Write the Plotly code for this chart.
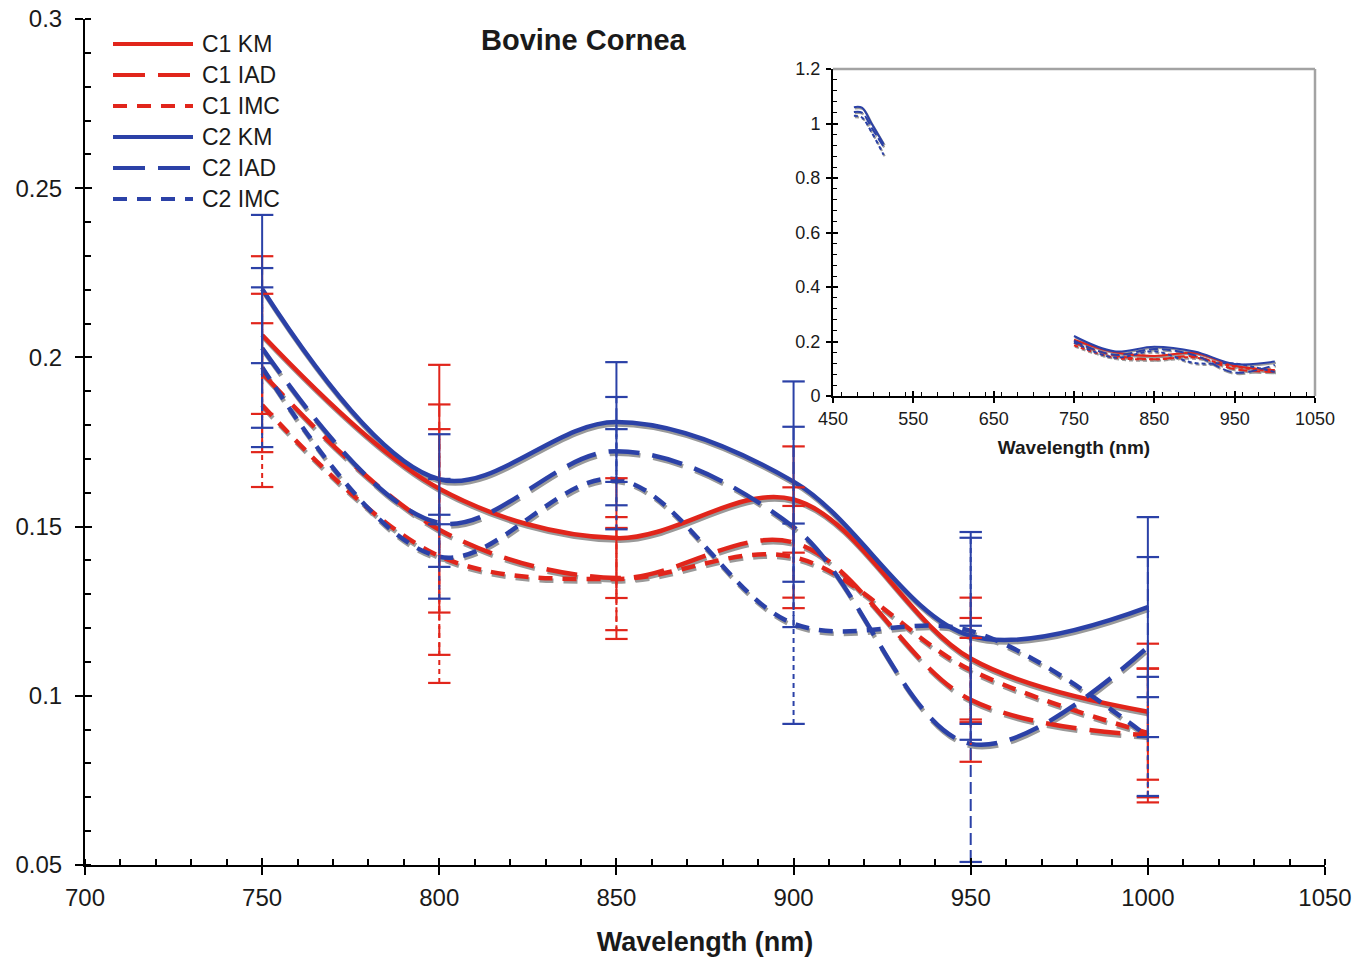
import plotly.graph_objects as go

# ---------------- data ----------------
wavelength = [750, 800, 850, 900, 950, 1000]

c1_km = [0.2066, 0.1612, 0.1466, 0.1580, 0.1110, 0.0953]
c1_iad = [0.1954, 0.1491, 0.1348, 0.1453, 0.0988, 0.0883]
c1_imc = [0.1859, 0.1413, 0.1345, 0.1410, 0.1076, 0.0890]
c2_km = [0.2202, 0.1640, 0.1809, 0.1633, 0.1177, 0.1262]
c2_iad = [0.2028, 0.1511, 0.1723, 0.1499, 0.0858, 0.1144]
c2_imc = [0.1971, 0.1411, 0.1640, 0.1213, 0.1192, 0.0880]

c1_km_err = [0.0233, 0.0366, 0.0177, 0.0157, 0.0180, 0.0201]
c1_iad_err = [0.0234, 0.0370, 0.0180, 0.0163, 0.0183, 0.0198]
c1_imc_err = [0.0242, 0.0375, 0.0151, 0.0151, 0.0154, 0.0190]
c2_km_err = [0.0219, 0.0133, 0.0177, 0.0296, 0.0307, 0.0266]
c2_iad_err = [0.0236, 0.0130, 0.0160, 0.0296, 0.0349, 0.0266]
c2_imc_err = [0.0236, 0.0124, 0.0148, 0.0296, 0.0275, 0.0176]

# short segment visible only in the inset (blue curves, ~475-515 nm)
inset_short_x = [476, 486, 498, 513]
c2_km_short = [1.060, 1.058, 1.000, 0.925]
c2_iad_short = [1.042, 1.040, 0.985, 0.915]
c2_imc_short = [1.028, 1.022, 0.968, 0.885]

series_names = ["C1 KM", "C1 IAD", "C1 IMC", "C2 KM", "C2 IAD", "C2 IMC"]

# ---------------- style ----------------
RED = "#E1251B"
BLUE = "#2B41A7"
SHADOW = "#9a9a9a"
FONT = "Liberation Sans, Arial, Helvetica, sans-serif"
TXT = "#1a1a1a"

W, H = 1372, 962
ML, MR, MT, MB = 85, 47, 19, 97
PW, PH = W - ML - MR, H - MT - MB


def px_x(p):
    return (p - ML) / PW


def px_y(p):
    return (H - MB - p) / PH


main_dash = {"KM": "solid", "IAD": "31px,13px", "IMC": "14px,10px"}
inset_dash = {"KM": "solid", "IAD": "9px,4px", "IMC": "4px,3px"}
err_dash = {"KM": "solid", "IAD": "12px,5px", "IMC": "5px,4px"}

series = [
    (c1_km, c1_km_err, RED, "KM"),
    (c1_iad, c1_iad_err, RED, "IAD"),
    (c1_imc, c1_imc_err, RED, "IMC"),
    (c2_km, c2_km_err, BLUE, "KM"),
    (c2_iad, c2_iad_err, BLUE, "IAD"),
    (c2_imc, c2_imc_err, BLUE, "IMC"),
]

fig = go.Figure()

# --- main chart: shadows (on base axes with offset range) ---
for vals, err, col, kind in series:
    fig.add_trace(go.Scatter(
        x=wavelength, y=vals, mode="lines", xaxis="x", yaxis="y",
        line=dict(color=SHADOW, width=4.5, shape="spline", dash=main_dash[kind]),
        showlegend=False, hoverinfo="skip"))

# --- main chart: curves ---
for (vals, err, col, kind), name in zip(series, series_names):
    fig.add_trace(go.Scatter(
        x=wavelength, y=vals, mode="lines", name=name, xaxis="x3", yaxis="y3",
        line=dict(color=col, width=4.5, shape="spline", dash=main_dash[kind]),
        showlegend=False))

# --- main chart: error bars ---
for (vals, err, col, kind), name in zip(series, series_names):
    ex, ey = [], []
    cx, cy = [], []
    for xv, v, e in zip(wavelength, vals, err):
        ex += [xv, xv, None]
        ey += [v - e, v + e, None]
        cx += [xv, xv]
        cy += [v - e, v + e]
    fig.add_trace(go.Scatter(
        x=ex, y=ey, mode="lines", xaxis="x3", yaxis="y3",
        line=dict(color=col, width=2, dash=err_dash[kind]),
        showlegend=False, hoverinfo="skip"))
    fig.add_trace(go.Scatter(
        x=cx, y=cy, mode="markers", xaxis="x3", yaxis="y3",
        marker=dict(symbol="line-ew", size=16, line=dict(color=col, width=2.2)),
        showlegend=False, hoverinfo="skip"))

# empty trace for crossing-tick helper axes
fig.add_trace(go.Scatter(x=[], y=[], xaxis="x5", yaxis="y5", showlegend=False))

# --- inset: shadows ---
for vals, err, col, kind in series:
    fig.add_trace(go.Scatter(
        x=wavelength, y=vals, mode="lines", xaxis="x2", yaxis="y2",
        line=dict(color=SHADOW, width=2.2, shape="spline", dash=inset_dash[kind]),
        showlegend=False, hoverinfo="skip"))
for vals, kind in [(c2_km_short, "KM"), (c2_iad_short, "IAD"), (c2_imc_short, "IMC")]:
    fig.add_trace(go.Scatter(
        x=inset_short_x, y=vals, mode="lines", xaxis="x2", yaxis="y2",
        line=dict(color=SHADOW, width=2.2, shape="spline", dash=inset_dash[kind]),
        showlegend=False, hoverinfo="skip"))

# --- inset: curves ---
for (vals, err, col, kind), name in zip(series, series_names):
    fig.add_trace(go.Scatter(
        x=wavelength, y=vals, mode="lines", name=name, xaxis="x4", yaxis="y4",
        line=dict(color=col, width=2, shape="spline", dash=inset_dash[kind]),
        showlegend=False))
for vals, kind, name in [(c2_km_short, "KM", "C2 KM"), (c2_iad_short, "IAD", "C2 IAD"),
                         (c2_imc_short, "IMC", "C2 IMC")]:
    fig.add_trace(go.Scatter(
        x=inset_short_x, y=vals, mode="lines", name=name, xaxis="x4", yaxis="y4",
        line=dict(color=BLUE, width=2, shape="spline", dash=inset_dash[kind]),
        showlegend=False))

fig.add_trace(go.Scatter(x=[], y=[], xaxis="x6", yaxis="y6", showlegend=False))

# ---------------- axes ----------------
XR = [700, 1050]
YR = [0.05, 0.3]
dx_main = 1.0 * (XR[1] - XR[0]) / PW
dy_main = 2.5 * (YR[1] - YR[0]) / PH

inset_dom_x = [px_x(833), px_x(1315)]
inset_dom_y = [px_y(396), px_y(69)]
IXR = [450, 1050]
IYR = [0, 1.2]
ipw = 1315 - 833
iph = 396 - 69
dx_in = 1.0 * (IXR[1] - IXR[0]) / ipw
dy_in = 1.3 * (IYR[1] - IYR[0]) / iph

hidden = dict(visible=False, showgrid=False, zeroline=False, fixedrange=True, automargin=False)

tickfont_main = dict(family=FONT, size=24, color=TXT)
tickfont_in = dict(family=FONT, size=18, color=TXT)

fig.update_layout(
    width=W, height=H,
    margin=dict(l=ML, r=MR, t=MT, b=MB, autoexpand=False),
    paper_bgcolor="white", plot_bgcolor="white",
    showlegend=False,
    # base (shadow) axes main
    xaxis=dict(domain=[0, 1], range=[XR[0] - dx_main, XR[1] - dx_main], anchor="y", **hidden),
    yaxis=dict(domain=[0, 1], range=[YR[0] + dy_main, YR[1] + dy_main], anchor="x", **hidden),
    # visible main axes
    xaxis3=dict(overlaying="x", anchor="y3", range=XR, tick0=700, dtick=50, automargin=False,
                showline=True, linecolor="black", linewidth=2,
                ticks="outside", ticklen=8, tickwidth=2, tickcolor="black",
                ticklabelstandoff=2,
                minor=dict(dtick=10, ticks="inside", ticklen=6, tickwidth=1.6, tickcolor="black"),
                showgrid=False, zeroline=False, tickfont=tickfont_main,
                title=dict(text="<b>Wavelength (nm)</b>", font=dict(family=FONT, size=27, color=TXT),
                           standoff=22)),
    yaxis3=dict(overlaying="y", anchor="x3", range=YR, tick0=0.05, dtick=0.05, automargin=False,
                showline=True, linecolor="black", linewidth=2,
                ticks="outside", ticklen=8, tickwidth=2, tickcolor="black",
                ticklabelstandoff=8,
                minor=dict(dtick=0.01, ticks="inside", ticklen=6, tickwidth=1.6, tickcolor="black"),
                showgrid=False, zeroline=False, tickfont=tickfont_main),
    # inside halves of major ticks (crossing ticks)
    xaxis5=dict(overlaying="x", anchor="y5", range=XR, tick0=700, dtick=50, automargin=False,
                ticks="inside", ticklen=7, tickwidth=2, tickcolor="black",
                showticklabels=False, showline=False, showgrid=False, zeroline=False),
    yaxis5=dict(overlaying="y", anchor="x5", range=YR, tick0=0.05, dtick=0.05, automargin=False,
                ticks="inside", ticklen=7, tickwidth=2, tickcolor="black",
                showticklabels=False, showline=False, showgrid=False, zeroline=False),
    # inset base (shadow) axes
    xaxis2=dict(domain=inset_dom_x, range=[IXR[0] - dx_in, IXR[1] - dx_in], anchor="y2", **hidden),
    yaxis2=dict(domain=inset_dom_y, range=[IYR[0] + dy_in, IYR[1] + dy_in], anchor="x2", **hidden),
    # inset visible axes
    xaxis4=dict(overlaying="x2", anchor="y4", range=IXR, tick0=450, dtick=100, automargin=False,
                showline=True, linecolor="black", linewidth=2,
                ticks="outside", ticklen=5, tickwidth=1.8, tickcolor="black",
                minor=dict(dtick=20, ticks="inside", ticklen=4, tickwidth=1.3, tickcolor="black"),
                showgrid=False, zeroline=False, tickfont=tickfont_in,
                title=dict(text="<b>Wavelength (nm)</b>", font=dict(family=FONT, size=19, color=TXT),
                           standoff=13)),
    yaxis4=dict(overlaying="y2", anchor="x4", range=IYR, tick0=0, dtick=0.2, automargin=False,
                showline=True, linecolor="black", linewidth=2,
                ticks="outside", ticklen=5, tickwidth=1.8, tickcolor="black",
                ticklabelstandoff=2,
                minor=dict(dtick=0.04, ticks="inside", ticklen=4, tickwidth=1.3, tickcolor="black"),
                showgrid=False, zeroline=False, tickfont=tickfont_in),
    xaxis6=dict(overlaying="x2", anchor="y6", range=IXR, tick0=450, dtick=100, automargin=False,
                ticks="inside", ticklen=5, tickwidth=1.8, tickcolor="black",
                showticklabels=False, showline=False, showgrid=False, zeroline=False),
    yaxis6=dict(overlaying="y2", anchor="x6", range=IYR, tick0=0, dtick=0.2, automargin=False,
                ticks="inside", ticklen=5, tickwidth=1.8, tickcolor="black",
                showticklabels=False, showline=False, showgrid=False, zeroline=False),
)

# inset grey frame (top and right)
fig.add_shape(type="line", xref="x2 domain", yref="y2 domain", x0=0, x1=1, y0=1, y1=1,
              line=dict(color="#a3a3a3", width=2.5))
fig.add_shape(type="line", xref="x2 domain", yref="y2 domain", x0=1, x1=1, y0=0, y1=1,
              line=dict(color="#a3a3a3", width=2.5))

# title
fig.add_annotation(text="<b>Bovine Cornea</b>", xref="paper", yref="paper",
                   x=px_x(584), y=px_y(40), xanchor="center", yanchor="middle",
                   showarrow=False, font=dict(family=FONT, size=29, color=TXT))

# manual legend (long line samples as in the original)
legend_rows = [44, 75, 106, 137, 168, 199]
for (vals, err, col, kind), name, ry in zip(series, series_names, legend_rows):
    fig.add_shape(type="line", xref="paper", yref="paper",
                  x0=px_x(113), x1=px_x(193), y0=px_y(ry), y1=px_y(ry),
                  line=dict(color=col, width=4, dash=main_dash[kind] if kind != "IAD" else "32px,13px"))
    fig.add_annotation(text=name, xref="paper", yref="paper", x=px_x(200), y=px_y(ry),
                       xanchor="left", yanchor="middle", showarrow=False,
                       font=dict(family=FONT, size=23, color=TXT))

fig.write_html("out.html", config={"displayModeBar": False},
               post_script="document.body.style.margin='0px';document.body.style.overflow='hidden';")
